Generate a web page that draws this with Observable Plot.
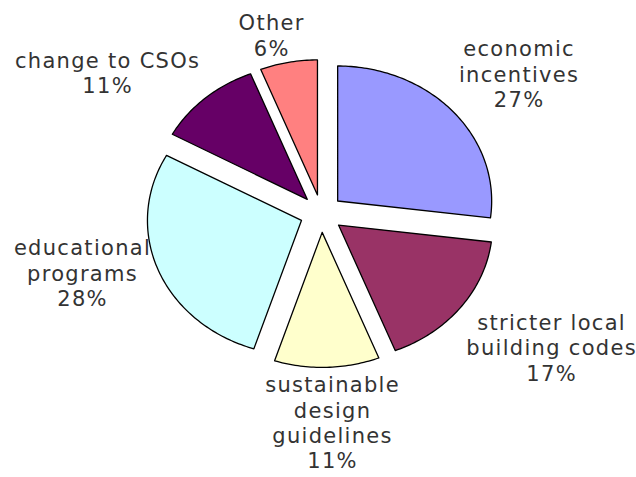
<!DOCTYPE html>
<html><head><meta charset="utf-8">
<script src="https://cdn.jsdelivr.net/npm/d3@7"></script>
<script src="https://cdn.jsdelivr.net/npm/@observablehq/plot@0.6"></script>
<style>
body{margin:0;background:#fff;}
#chart text{letter-spacing:1.3px;}
</style></head><body><div id="chart"></div>
<script>
const categories = ["economic incentives","stricter local building codes","sustainable design guidelines","educational programs","change to CSOs","Other"];
const labelLines = ["economic\nincentives","stricter local\nbuilding codes","sustainable\ndesign\nguidelines","educational\nprograms","change to CSOs","Other"];
const values = [27,17,11,28,11,6];
const colors = ["#9999FF","#993366","#FFFFCC","#CCFFFF","#660066","#FF8080"];

// layout
const W = 636, H = 477, cx = 321, cy = 213, rx = 154, ry = 135, explode = 0.14, labelR = 1.19;
const fontSize = 21, letterSpacing = 1.3, fontFamily = "'DejaVu Sans', Verdana, sans-serif";

const ctx = document.createElement("canvas").getContext("2d");
ctx.font = `${fontSize}px ${fontFamily}`;
const measure = s => ctx.measureText(s).width + s.length * letterSpacing;

const total = d3.sum(values);
let acc = 0;
const slices = values.map((v, i) => {
  const a0 = acc / total * 2 * Math.PI; acc += v;
  const a1 = acc / total * 2 * Math.PI;
  return {name: categories[i], label: labelLines[i] + "\n" + v + "%", a0, a1, mid: (a0 + a1) / 2};
});
const pts = [];
slices.forEach(s => {
  const ox = explode * rx * Math.sin(s.mid), oy = explode * ry * Math.cos(s.mid);
  pts.push({name: s.name, x: ox, y: oy});
  const n = Math.max(2, Math.ceil((s.a1 - s.a0) / (Math.PI / 180)));
  for (let k = 0; k <= n; k++) {
    const a = s.a0 + (s.a1 - s.a0) * k / n;
    pts.push({name: s.name, x: ox + rx * Math.sin(a), y: oy + ry * Math.cos(a)});
  }
  pts.push({name: s.name, x: ox, y: oy});
});

const labelMarks = slices.map(s => {
  const sx = Math.sin(s.mid), cyv = Math.cos(s.mid);
  const w = d3.max(s.label.split("\n"), measure);
  const dx = Math.max(-1, Math.min(1, sx / 0.4)) * w / 2;
  const lineAnchor = cyv > 0.5 ? "bottom" : cyv < -0.5 ? "top" : "middle";
  return Plot.text([s], {
    x: d => labelR * rx * Math.sin(d.mid),
    y: d => labelR * ry * Math.cos(d.mid),
    text: "label", textAnchor: "middle", lineAnchor, lineHeight: 1.21, dx,
    fontSize, fill: "#333"
  });
});

const chart = Plot.plot({
  width: W, height: H,
  marginTop: 0, marginRight: 0, marginBottom: 0, marginLeft: 0,
  x: {domain: [-cx, W - cx], range: [0, W], axis: null},
  y: {domain: [cy - H, cy], range: [H, 0], axis: null},
  color: {domain: categories, range: colors},
  style: {fontFamily, background: "#fff"},
  marks: [
    Plot.line(pts, {x: "x", y: "y", z: "name", fill: "name", stroke: "#000", strokeWidth: 1.3, curve: "linear"}),
    ...labelMarks
  ]
});
document.getElementById("chart").appendChild(chart);
</script></body></html>
